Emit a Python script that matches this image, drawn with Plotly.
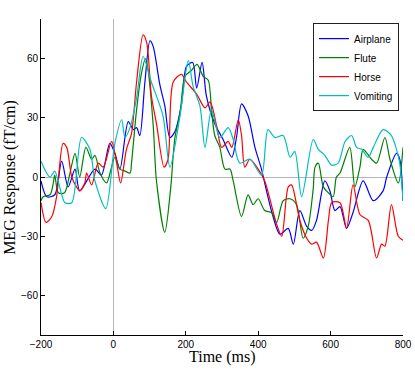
import plotly.graph_objects as go

# Time (ms) and response (fT/cm) for each condition
airplane_t = [-200, -184, -162, -143, -125, -106, -93, -51, -33, -10, 4, 18, 41, 55, 64, 73,
              87, 101, 110, 128, 142, 156, 170, 188, 202, 219, 230, 245, 257, 280, 303, 327,
              340, 354, 372, 391, 409, 423, 441, 460, 483, 497, 515, 534, 548, 561, 584, 598,
              612, 626, 644, 662, 690, 718, 745, 755, 782, 791, 800]
airplane_v = [-2, -10, -9, 8, -5, 4, -7, 4, 1, 17, 12, 4, 28, 24, 25, 21,
              48, 69, 66, 47, 36, 20, 23, 37, 56, 58, 45, 58, 41, 27, 19, 10,
              20, 37, 31, 15, 4, -7, -20, -29, -26, -34, -17, -25, -27, -22, -2, -7,
              -17, -15, -26, -18, -2, -12, -7, 0, 12, 9, -12]

flute_t = [-200, -194, -175, -166, -162, -152, -135, -120, -106, -93, -76, -60, -51, -37, -19,
           4, 18, 32, 46, 50, 64, 78, 89, 96, 110, 119, 142, 158, 170, 184, 198, 216, 231,
           248, 262, 271, 280, 294, 308, 322, 331, 354, 372, 386, 400, 418, 437, 451, 469,
           488, 506, 524, 538, 552, 557, 566, 580, 594, 607, 616, 626, 653, 667, 681, 690,
           713, 727, 750, 764, 787, 800]
flute_v = [-12, -10, -9, -3, 1, -8, -8, 2, 12, 0, 15, 9, 11, 2, -3,
           10, 4, 3, 2, 7, 34, 53, 60, 54, 26, -2, -28, -6, 20, 32, 51, 54, 57,
           51, 49, 34, 21, 15, 4, 4, -2, -20, -9, -14, -11, -17, -18, -23, -12,
           -11, -14, -31, -25, -6, 5, 7, -5, -8, -10, 0, 2, 15, -5, 5, 14,
           9, 7, 20, 9, -3, 15]

horse_t = [-200, -186, -170, -157, -139, -129, -115, -102, -93, -79, -74, -60, -42, -28, -5,
           9, 20, 36, 50, 64, 82, 92, 105, 119, 140, 151, 165, 188, 202, 230, 253, 267, 285,
           299, 317, 327, 345, 354, 363, 377, 400, 418, 451, 465, 483, 492, 515, 534, 548,
           561, 580, 594, 603, 626, 644, 662, 681, 704, 727, 741, 750, 768, 787, 800]
horse_v = [-13, -23, -20, -10, 17, 15, 0, -5, -7, -3, 2, -4, 7, 5, 18,
           7, -3, 14, 22, 48, 72, 68, 41, 27, 5, 9, 48, 52, 48, 42, 35, 38, 26,
           15, 18, 15, 29, 21, 5, 9, 4, -2, -24, -30, -5, -4, -22, -31, -34,
           -33, -41, -22, -13, -13, -26, -4, -19, -22, -41, -34, -35, -14, -30, -32]

vomiting_t = [-200, -175, -162, -134, -115, -88, -65, -51, -21, 4, 23, 32, 46, 64, 82, 105,
              137, 156, 184, 207, 220, 239, 253, 271, 294, 317, 331, 349, 377, 409, 427, 446,
              469, 488, 501, 520, 552, 566, 584, 603, 621, 640, 658, 672, 686, 704, 718, 745,
              768, 782, 791, 800]
vomiting_v = [8, 0, 3, -13, -13, 20, 14, -2, -16, 17, 29, 20, 25, 40, 61, 48,
              31, 5, 31, 59, 46, 36, 15, 34, 20, 25, 19, 7, 9, 1, 24, 20,
              21, 10, 13, -10, 19, 14, 11, 6, 7, 18, 21, 15, 14, 10, 15, 24,
              21, 14, 7, -12]

series = [
    ("Airplane", airplane_t, airplane_v, "#0000ff"),
    ("Flute", flute_t, flute_v, "#008000"),
    ("Horse", horse_t, horse_v, "#ff0000"),
    ("Vomiting", vomiting_t, vomiting_v, "#00bfbf"),
]

fig = go.Figure()
for name, t, v, color in series:
    fig.add_trace(go.Scatter(x=t, y=v, name=name, mode="lines",
                             line=dict(color=color, width=1.2, shape="spline", smoothing=0.8)))

serif = "Liberation Serif"
sans = "Liberation Sans"

fig.update_layout(
    width=415, height=369,
    margin=dict(l=41, r=12, t=19, b=34, autoexpand=False),
    paper_bgcolor="white", plot_bgcolor="white",
    showlegend=True,
    legend=dict(x=0.989, y=0.987, xanchor="right", yanchor="top",
                bordercolor="#222222", borderwidth=1, bgcolor="white",
                font=dict(family=sans, size=10, color="black"),
                tracegroupgap=0),
    annotations=[
        dict(text="Time (ms)", xref="paper", yref="paper", x=0.5, y=-0.07,
             xanchor="center", yanchor="middle", showarrow=False,
             font=dict(family=serif, size=16, color="black")),
        dict(text="MEG Response (fT/cm)", xref="paper", yref="paper", x=-0.086, y=0.5,
             xanchor="center", yanchor="middle", textangle=-90, showarrow=False,
             font=dict(family=serif, size=16, color="black")),
    ],
)

fig.update_xaxes(range=[-200, 800], tickvals=[-200, 0, 200, 400, 600, 800],
                 showgrid=False, showline=True, linecolor="black", linewidth=1,
                 ticks="inside", ticklen=4, tickcolor="black", automargin=False,
                 zeroline=True, zerolinecolor="#b4b4b4", zerolinewidth=1,
                 tickfont=dict(family=sans, size=10, color="black"))
fig.update_yaxes(range=[-80, 80], tickvals=[-60, -30, 0, 30, 60],
                 showgrid=False, showline=True, linecolor="black", linewidth=1,
                 ticks="inside", ticklen=4, tickcolor="black", automargin=False,
                 zeroline=True, zerolinecolor="#b4b4b4", zerolinewidth=1,
                 tickfont=dict(family=sans, size=10, color="black"))

# the page's default 8px body margin would shift the fixed-size figure
fig.write_html("out.html", config={"displayModeBar": False},
               post_script="document.body.style.margin='0';")
